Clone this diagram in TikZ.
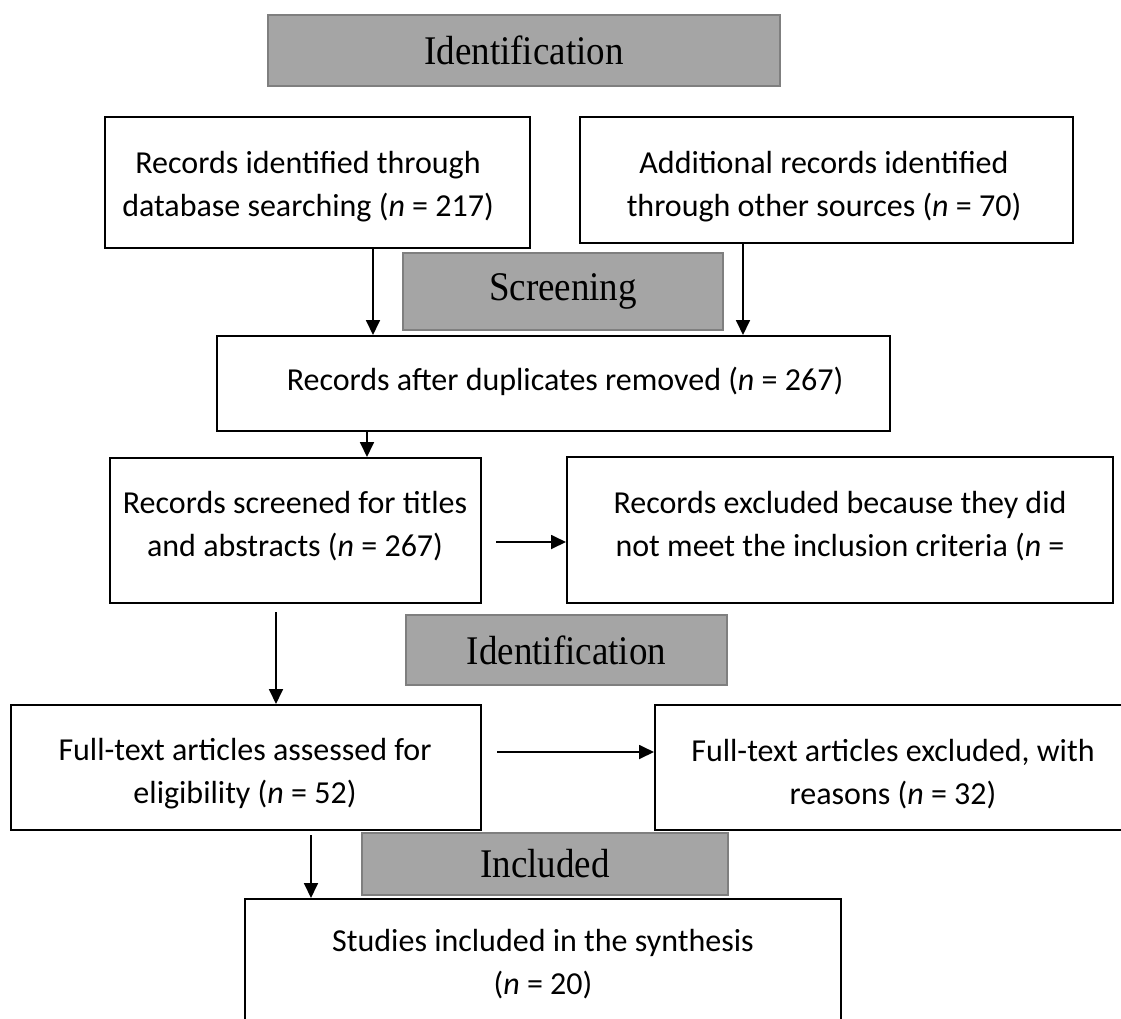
\documentclass[tikz,border=0pt]{standalone}
\usepackage{fontspec}
\setmainfont{Carlito}
\newfontfamily\hdrfont{Liberation Serif}
\usetikzlibrary{arrows.meta,fit}
\definecolor{hdrfill}{HTML}{A5A5A5}
\definecolor{hdrline}{HTML}{7F7F7F}
\newcommand{\hdrtext}[1]{\scalebox{1}[1.1]{#1}}
\tikzset{
  box/.style={draw=black, line width=1pt, inner sep=0pt},
  hdr/.style={draw=hdrline, line width=1.3pt, fill=hdrfill, inner sep=0pt},
  txt/.style={align=center, font=\fontsize{16}{21.5}\selectfont, inner sep=0pt},
  htxt/.style={font=\hdrfont\fontsize{18.5}{20}\selectfont, inner sep=0pt},
  arr/.style={line width=0.9pt, -{Triangle[length=7.5pt,width=7pt]}},
}
\begin{document}
\begin{tikzpicture}[x=0.5pt,y=-0.5pt]
\clip (0,0) rectangle (1121,1019);
\fill[white] (0,0) rectangle (1121,1019);
% headers
\node[hdr, fit={(268,15) (780,86)}] (h1) {};
\node[htxt] (h1t) at (h1.center) {\hdrtext{Identification}};
\node[hdr, fit={(403,253) (723,330)}] (h2) {};
\node[htxt] (h2t) at (h2.center) {\hdrtext{Screening}};
\node[hdr, fit={(406,615) (727,685)}] (h3) {};
\node[htxt] (h3t) at (h3.center) {\hdrtext{Identification}};
\node[hdr, fit={(362,833) (728,895)}] (h4) {};
\node[htxt] (h4t) at (h4.center) {\hdrtext{Included}};
% boxes
\node[box, fit={(105,117) (530,248)}] (A) {};
\node[txt] (At) at (308,187) {Records identified through\\database searching (\textit{n} = 217)};
\node[box, fit={(580,117) (1073,243)}] (B) {};
\node[txt] (Bt) at (824,187) {Additional records identified\\through other sources (\textit{n} = 70)};
\node[box, fit={(217,336) (890,431)}] (C) {};
\node[txt] (Ct) at (565,381) {Records after duplicates removed (\textit{n} = 267)};
\node[box, fit={(110,458) (481,603)}] (D) {};
\node[txt] (Dt) at (295,526) {Records screened for titles\\and abstracts (\textit{n} = 267)};
\node[box, fit={(567,457) (1113,603)}] (E) {};
\node[txt] (Et) at (840,526) {Records excluded because they did\\not meet the inclusion criteria (\textit{n} =};
\node[box, fit={(11,705) (481,830)}] (F) {};
\node[txt] (Ft) at (245,774) {Full-text articles assessed for\\eligibility (\textit{n} = 52)};
\node[box, fit={(655,705) (1140,830)}] (G) {};
\node[txt] (Gt) at (893,774) {Full-text articles excluded, with\\reasons (\textit{n} = 32)};
\node[box, fit={(245,899) (841,1040)}] (H) {};
\node[txt] (Ht) at (543,964) {Studies included in the synthesis\\(\textit{n} = 20)};
% connectors
\coordinate (ax) at (373,0);
\coordinate (bx) at (743,0);
\coordinate (cx) at (367,0);
\coordinate (ds) at (276,612);
\coordinate (fg) at (497,752);
\coordinate (fh) at (311,835);
\draw[arr] (A.south -| ax) -- (C.north -| ax);
\draw[arr] (B.south -| bx) -- (C.north -| bx);
\draw[arr] (C.south -| cx) -- (D.north -| cx);
\draw[arr] ([xshift=7pt]D.east |- 0,542) -- (E.west |- 0,542);
\draw[arr] (ds) -- (F.north -| ds);
\draw[arr] (fg) -- (G.west |- fg);
\draw[arr] (fh) -- (H.north -| fh);
\end{tikzpicture}
\end{document}
